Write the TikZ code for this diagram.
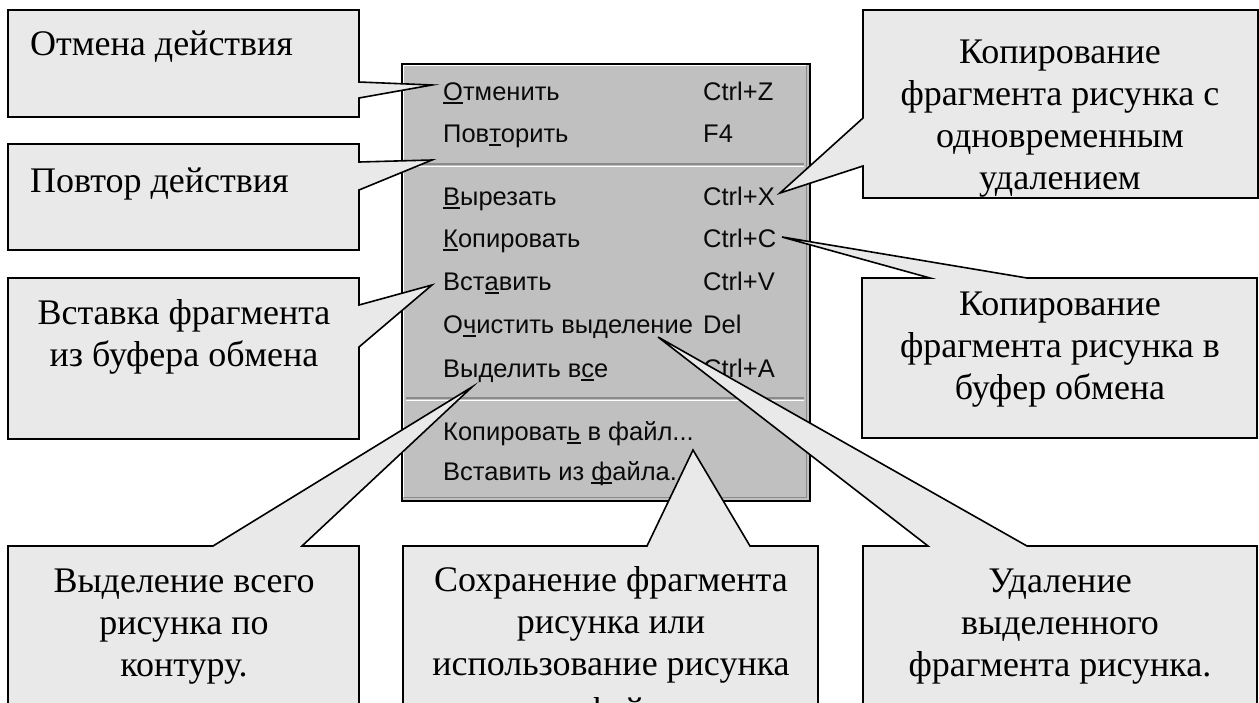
\documentclass[tikz,border=0pt]{standalone}
\usepackage{fontspec}
\setmainfont{Liberation Serif}
\newfontfamily\menufont{Liberation Sans}
\newcommand\acck[1]{\setbox0\hbox{#1}\rlap{\rule[-3.5pt]{\wd0}{1.8pt}}\box0\relax}
\newcommand\tstrut{\rule{0pt}{30pt}}
\definecolor{boxgray}{HTML}{E9E9E9}
\definecolor{menugray}{HTML}{C0C0C0}
\definecolor{menutext}{HTML}{0A0A0A}
\definecolor{sepdark}{HTML}{8A8A8A}
\begin{document}
\begin{tikzpicture}[x=1pt,y=-1pt,
  cbox/.style={fill=boxgray, draw=black, line width=1.6pt, line join=miter},
  ctext/.style={font=\fontsize{36}{42}\selectfont, align=center, anchor=north, inner sep=0pt},
  ltext/.style={font=\fontsize{36}{42}\selectfont, anchor=base west, inner sep=0pt},
  mitem/.style={font=\menufont\fontsize{25.5}{28}\selectfont, anchor=base west, inner sep=0pt, text=menutext},
  sep/.style={line width=1.6pt}]
\useasboundingbox (0,0) rectangle (1259,702);
\clip (0,0) rectangle (1259,702);
\fill[white] (0,0) rectangle (1259,702);

% ---- menu ----
\node[draw=black, fill=menugray, line width=1.5pt, minimum width=408pt, minimum height=437pt,
      anchor=north west, inner sep=0pt] (menu) at (401,63) {};
\draw[white, line width=1.5pt] (403.5,497) -- (403.5,65.5) -- (806,65.5);
\draw[sepdark, line width=1.5pt] (806.5,65.5) -- (806.5,497.5) -- (403.5,497.5);
\draw[sep, sepdark] (406,164) -- (804,164);
\draw[sep, white] (406,166.5) -- (804,166.5);
\draw[sep, sepdark] (406,398) -- (804,398);
\draw[sep, white] (406,400.5) -- (804,400.5);

\node[mitem] (m1) at (443,100) {\acck{О}тменить};
\node[mitem] (m2) at (443,142) {Пов\acck{т}орить};
\node[mitem] (m3) at (443,205) {\acck{В}ырезать};
\node[mitem] (m4) at (443,247) {\acck{К}опировать};
\node[mitem] (m5) at (443,290) {Вст\acck{а}вить};
\node[mitem] (m6) at (443,333) {О\acck{ч}истить выделение};
\node[mitem] (m7) at (443,377) {Выделить в\acck{с}е};
\node[mitem] (m8) at (443,440) {Копироват\acck{ь} в файл...};
\node[mitem] (m9) at (443,480) {Вставить из \acck{ф}айла...};

\node[mitem] (s1) at (703,100) {Ctrl+Z};
\node[mitem] (s2) at (703,142) {F4};
\node[mitem] (s3) at (703,205) {Ctrl+X};
\node[mitem] (s4) at (703,247) {Ctrl+C};
\node[mitem] (s5) at (703,290) {Ctrl+V};
\node[mitem] (s6) at (703,333) {Del};
\node[mitem] (s7) at (703,377) {Ctrl+A};

% ---- pointer tips ----
\coordinate (t1) at (432,85);
\coordinate (t2) at (432,160);
\coordinate (t3) at (432,285);
\coordinate (t4) at (780,193);
\coordinate (t5) at (782,237);
\coordinate (t6) at (472,387);
\coordinate (t7) at (693,450);
\coordinate (t8) at (658,337);

% ---- callouts ----
\path[cbox] (8,10) -- (359,10) -- (359,82) -- (t1) -- (359,98) -- (359,117) -- (8,117) -- cycle;
\path[cbox] (8,144) -- (359,144) -- (359,162) -- (t2) -- (359,190) -- (359,250) -- (8,250) -- cycle;
\path[cbox] (8,278) -- (359,278) -- (359,305) -- (t3) -- (359,347) -- (359,439) -- (8,439) -- cycle;
\path[cbox] (863,10) -- (1258,10) -- (1258,198) -- (863,198) -- (863,166) -- (t4) -- (863,118) -- cycle;
\path[cbox] (862,278) -- (930,278) -- (t5) -- (1027,278) -- (1257,278) -- (1257,438) -- (862,438) -- cycle;
\path[cbox] (8,546) -- (213,546) -- (t6) -- (302,546) -- (359,546) -- (359,720) -- (8,720) -- cycle;
\path[cbox] (403,546) -- (647,546) -- (t7) -- (750,546) -- (818,546) -- (818,720) -- (403,720) -- cycle;
\path[cbox] (863,546) -- (928,546) -- (t8) -- (1027,546) -- (1257,546) -- (1257,720) -- (863,720) -- cycle;

% ---- callout texts ----
\node[ltext] (c1) at (30,55) {Отмена действия};
\node[ltext] (c2) at (30,192) {Повтор действия};
\node[ctext] (c3) at (184,294) {\tstrut Вставка фрагмента\\из буфера обмена};
\node[ctext] (c4) at (1060,33) {\tstrut Копирование\\фрагмента рисунка с\\одновременным\\удалением};
\node[ctext] (c5) at (1060,285) {\tstrut Копирование\\фрагмента рисунка в\\буфер обмена};
\node[ctext] (c6) at (184,562) {\tstrut Выделение всего\\рисунка по\\контуру.};
\node[ctext] (c7) at (611,561) {\tstrut Сохранение фрагмента\\рисунка или\\использование рисунка\\[5pt]в файл};
\node[ctext] (c8) at (1060,562) {\tstrut Удаление\\выделенного\\фрагмента рисунка.};
\end{tikzpicture}
\end{document}
